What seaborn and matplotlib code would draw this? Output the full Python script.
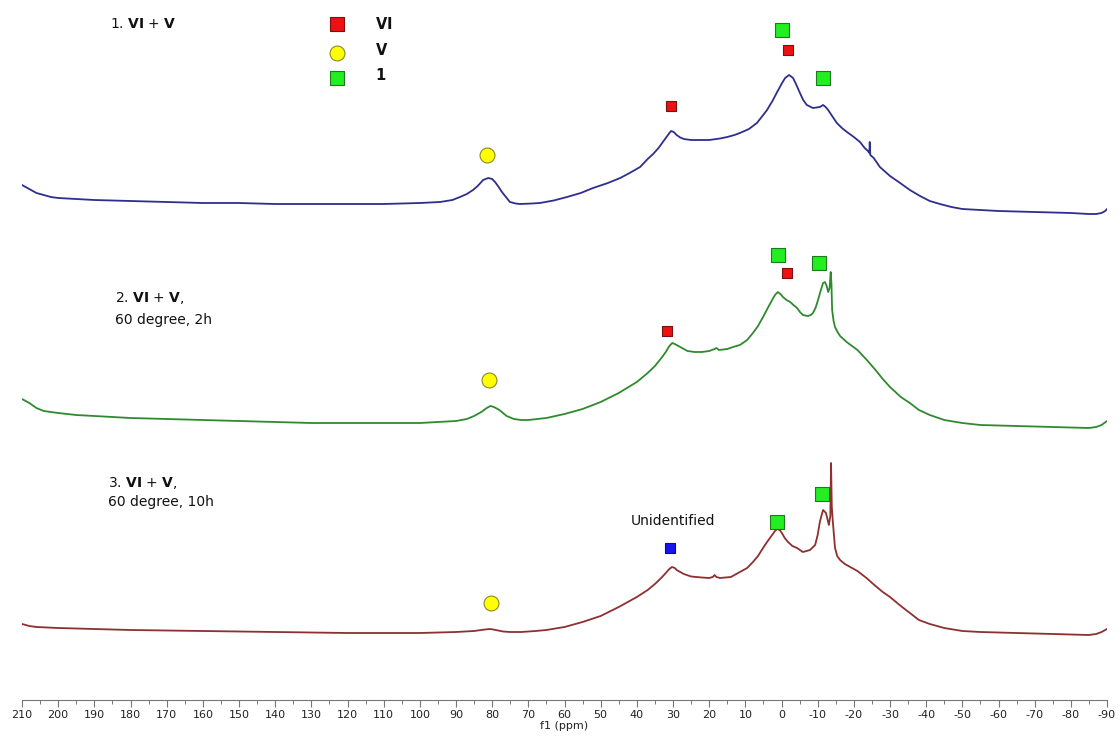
import numpy as np
import pandas as pd
import matplotlib
matplotlib.use("Agg")
import matplotlib.pyplot as plt
import seaborn as sns

# 31P spectra: chemical shift (ppm) and intensity above each trace's own baseline
ppm_1 = [210, 208, 206, 204, 202, 200, 195, 190, 180, 170, 160, 150, 140, 130, 120, 110, 100,
         94.4, 91, 88.9, 87, 85.3, 84, 82.5, 81.1, 80, 79.2, 78.2, 77.3, 76.2, 75.1, 73.5, 72.3,
         69, 66.8, 63, 59.3, 55.5, 52.1, 48, 44.6, 42, 39.1, 37, 35.5, 34, 33, 32, 31, 30.5,
         29.8, 29, 28, 27, 25, 22, 20, 17, 15, 13, 11.5, 9, 6.8, 5.5, 4, 2.5, 1.2, 0, -1, -2.1,
         -3.2, -4, -5.1, -6, -7, -8.7, -10.6, -11.5, -12.2, -12.9, -14, -15.3, -16.7, -18.1, -20,
         -21.7, -23, -23.9, -24.3, -24.4, -24.55, -25.5, -27.2, -30, -32.8, -35.5, -38.3, -41,
         -43.8, -47, -50, -55, -60, -70, -80, -85, -87, -88.5, -89.5, -90]
int_1 = [31, 27, 23, 21, 19, 18, 17, 16, 15, 14, 13, 13, 12, 12, 12, 12, 13,
         14, 16, 19, 22, 26, 30, 36, 38, 37, 34, 29, 24, 19, 14, 12.5, 12,
         12.5, 13, 15.5, 19, 23, 28, 33, 38, 43, 49, 57, 62, 68, 73, 78, 83, 85,
         84, 81, 78.5, 77, 76, 76, 76, 77.5, 79, 81, 83, 87, 93, 99, 106, 115, 124, 132, 138, 141,
         138, 132, 123, 116, 111, 108, 109, 111, 109, 106, 100, 93, 88, 84, 79,
         74, 68, 65, 63, 74, 61, 58, 49, 40, 33, 26, 20, 15,
         12, 9, 7, 6, 5, 4, 3, 2, 2, 3, 5, 7]

ppm_2 = [210, 208, 206, 204, 202, 200, 195, 190, 180, 170, 160, 150, 140, 130, 120, 110, 100,
         95, 90, 87, 85, 83, 81.5, 80.5, 79.5, 78, 76, 74, 72, 70, 65, 60, 55, 50, 45, 40, 37,
         35, 33, 32, 31, 30.2, 29.5, 28, 26, 24, 22, 20, 18.5, 18, 17.3, 15, 13.4, 11.5, 9.5,
         7.9, 6.5, 5.1, 3.8, 2.6, 1.8, 1.0, 0.3, -0.4, -1.4, -2.4, -3.3, -4.3, -5.1, -5.9, -7.3,
         -8.1, -8.7, -9.4, -10.1, -10.8, -11.5, -12.0, -12.5, -12.9, -13.3, -13.6, -13.8, -14.0,
         -14.4, -14.8, -15.5, -16.2, -18, -21, -23.6, -26, -28, -30, -33, -35.5, -38, -41, -45,
         -50, -55, -65, -75, -85, -87, -88.5, -90]
int_2 = [29, 25, 20, 17, 16, 15, 13, 12, 10, 9, 8, 7, 6, 5, 5, 5, 5,
         6, 7, 9, 12, 16, 20, 22, 21, 18, 12, 9, 8, 8, 10, 14, 19, 26, 35, 46, 55,
         62, 71, 76, 82, 85, 84, 81, 77, 76, 76, 77, 79, 80, 78, 79, 81, 83, 88,
         95, 102, 111, 120, 128, 133, 136, 134, 131, 128, 126, 123, 120, 116, 113, 112,
         113, 115, 120, 128, 137, 145, 146, 142, 136, 140, 156, 145, 118,
         107, 101, 96, 92, 86, 78, 68, 58, 49, 41, 31, 25, 18, 13, 8,
         5, 3, 2, 1, 0, 1, 3, 7]

ppm_3 = [210, 208, 206, 200, 190, 180, 160, 140, 120, 100, 90, 85, 82, 80.5, 79, 77, 75, 72, 68,
         65, 60, 55, 50, 45, 40, 37, 35, 33, 32, 31, 30.3, 29.5, 29, 27, 25, 22, 20, 19, 18.5,
         18, 17, 14, 11.5, 9.5, 7.9, 6.5, 5.1, 3.8, 2.6, 1.8, 1.2, 0.5, -0.1, -0.9, -1.8, -3,
         -4.3, -5.9, -7.9, -9.3, -10, -10.6, -11.1, -11.5, -12.3, -13.1, -13.5, -13.7, -13.9,
         -14.2, -14.8, -15.4, -16.2, -17.5, -19, -21, -23.5, -26, -28, -30, -33, -35.5, -38, -41,
         -45, -50, -55, -65, -75, -85, -87, -88.5, -90]
int_3 = [12, 10, 9, 8, 7, 6, 5, 4, 3, 3, 4, 5, 6.5, 7, 6, 4.5, 4, 4, 5,
         6, 9, 14, 20, 29, 39, 46, 52, 59, 63, 67, 69, 68, 66, 62, 59.5, 58.5, 58, 59, 61,
         59, 58, 59, 64, 68, 74, 80, 88, 95, 101, 105, 107, 106, 103, 98, 94, 90,
         88, 84, 86, 91, 101, 114, 121, 126, 123, 111, 120, 173, 130,
         114, 88, 80, 76, 72, 69, 65, 58, 50, 44, 39, 30, 23, 16, 12,
         8, 5, 4, 3, 2, 1, 2, 4, 7]

trace_offsets = [484, 272, 64]
trace_colors = ["#2e2e8c", "#2f8a2f", "#8c3030"]

# Peak assignments: (ppm, height above baseline, species)
marks_1 = [(30.5, 110, "VI"), (81.4, 61, "V"), (-0.1, 186, "1"), (-1.8, 166, "VI"), (-11.5, 138, "1")]
marks_2 = [(1.0, 173, "1"), (-1.5, 155, "VI"), (-10.4, 165, "1"), (31.7, 97, "VI"), (80.9, 48, "V")]
marks_3 = [(1.2, 114, "1"), (-11.2, 142, "1"), (30.8, 88, "unk"), (80.3, 33, "V")]

species_style = {
    "VI": dict(marker="s", color="#ee1111", edgecolor="#7a1010", s=60),
    "V": dict(marker="o", color="#ffff00", edgecolor="#8a8a20", s=115),
    "1": dict(marker="s", color="#22ee22", edgecolor="#1d7a1d", s=90),
    "unk": dict(marker="s", color="#1515ee", edgecolor="#101070", s=60),
}

sns.set_theme(style="white")
plt.rcParams["font.family"] = ["DejaVu Sans"]
plt.rcParams["mathtext.fontset"] = "dejavusans"

fig = plt.figure(figsize=(11.2, 7.38), dpi=100)
ax = fig.add_axes([22 / 1120, 38 / 738, 1085 / 1120, 700 / 738])

traces = [(ppm_1, int_1), (ppm_2, int_2), (ppm_3, int_3)]
for (ppm, inten), off, col in zip(traces, trace_offsets, trace_colors):
    df = pd.DataFrame({"ppm": ppm, "y": np.asarray(inten, dtype=float) + off})
    sns.lineplot(data=df, x="ppm", y="y", color=col, lw=1.3, sort=False,
                 estimator=None, ax=ax)

for marks, off in zip([marks_1, marks_2, marks_3], trace_offsets):
    for sp in species_style:
        pts = [(p, h + off) for p, h, s in marks if s == sp]
        if not pts:
            continue
        st = species_style[sp]
        sns.scatterplot(x=[p for p, _ in pts], y=[h for _, h in pts], marker=st["marker"],
                        color=st["color"], edgecolor=st["edgecolor"], linewidth=0.8,
                        s=st["s"], ax=ax, zorder=5)

# Key for the symbols
key_ppm = 123.0
key_rows = [("VI", 676, r"$\mathbf{VI}$", 676), ("V", 647, r"$\mathbf{V}$", 650),
            ("1", 622, r"$\mathbf{1}$", 625)]
for sp, y, label, ty in key_rows:
    st = species_style[sp]
    size = 100 if sp == "VI" else st["s"]
    ax.scatter([key_ppm], [y], marker=st["marker"], c=st["color"], edgecolors=st["edgecolor"],
               linewidths=0.8, s=size, zorder=5)
    ax.text(112.3, ty, label, fontsize=10.5, va="center", ha="left", color="#111111")

# Sample labels
txt = dict(fontsize=10, va="center", ha="left", color="#111111")
ax.text(185.6, 676, r"1. $\mathbf{VI}$ + $\mathbf{V}$", **txt)
ax.text(184.3, 402, r"2. $\mathbf{VI}$ + $\mathbf{V}$,", **txt)
ax.text(184.3, 380, "60 degree, 2h", **txt)
ax.text(186.2, 217, r"3. $\mathbf{VI}$ + $\mathbf{V}$,", **txt)
ax.text(186.2, 198, "60 degree, 10h", **txt)
ax.text(30.0, 179, "Unidentified", fontsize=10, va="center", ha="center", color="#111111")

ax.set_xlim(210, -90)
ax.set_ylim(0, 700)
ax.set_xticks(np.arange(210, -91, -10))
ax.set_xticks(np.arange(205, -90, -10), minor=True)
ax.set_xticklabels([str(v) for v in np.arange(210, -91, -10)])
ax.set_yticks([])
ax.set_xlabel("f1 (ppm)", fontsize=8, labelpad=1, color="#222222")
ax.set_ylabel("")
for side in ["top", "left", "right"]:
    ax.spines[side].set_visible(False)
ax.spines["bottom"].set_color("#777777")
ax.spines["bottom"].set_linewidth(0.8)
ax.tick_params(axis="x", which="major", direction="out", length=5, width=0.8, color="#777777",
               labelsize=8, labelcolor="#222222", pad=2, bottom=True)
ax.tick_params(axis="x", which="minor", direction="out", length=3, width=0.7, color="#777777",
               bottom=True)
ax.patch.set_alpha(0)

fig.savefig("out.png", dpi=100, facecolor="white")
